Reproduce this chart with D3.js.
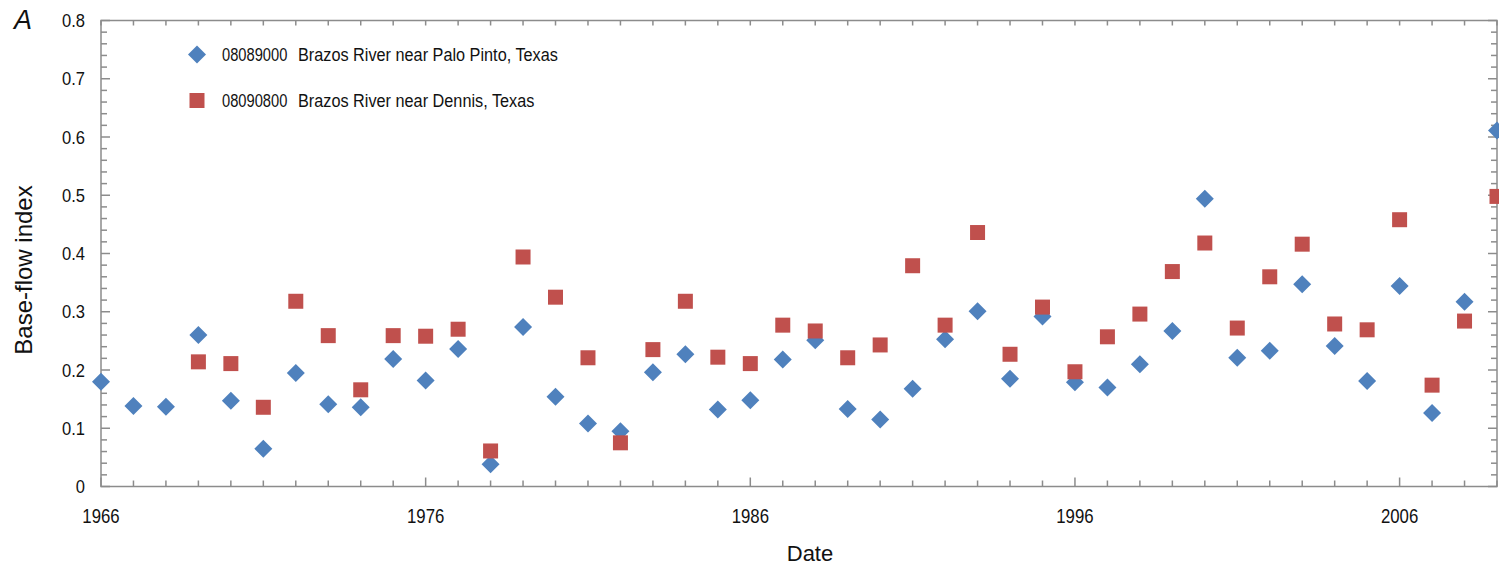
<!DOCTYPE html>
<html lang="en">
<head>
    <meta charset="UTF-8">
    <title>Base-flow index</title>
    <script src="https://d3js.org/d3.v7.min.js"></script>
    <style>
        body { margin: 0; background: #fff; }
        text { font-family: "Liberation Sans", Arial, sans-serif; fill: #111; }
    </style>
</head>
<body>
    <div id="chart"></div>

    <script>
        // Years of record
        var years = d3.range(1966, 2010);

        // 08089000 Brazos River near Palo Pinto, Texas
        var paloPinto = [
            0.180, 0.138, 0.137, 0.260, 0.147, 0.065, 0.195, 0.141, 0.136, 0.219,
            0.182, 0.236, 0.038, 0.274, 0.154, 0.108, 0.095, 0.196, 0.227, 0.132,
            0.148, 0.218, 0.251, 0.133, 0.115, 0.168, 0.253, 0.301, 0.185, 0.292,
            0.179, 0.170, 0.210, 0.267, 0.494, 0.221, 0.233, 0.347, 0.241, 0.181,
            0.344, 0.126, 0.317, 0.611
        ];

        // 08090800 Brazos River near Dennis, Texas (no record 1966-1968)
        var dennis = [
            null, null, null, 0.214, 0.211, 0.136, 0.318, 0.259, 0.166, 0.259,
            0.258, 0.270, 0.061, 0.394, 0.325, 0.221, 0.075, 0.235, 0.318, 0.222,
            0.211, 0.277, 0.267, 0.221, 0.243, 0.379, 0.277, 0.436, 0.227, 0.308,
            0.197, 0.257, 0.296, 0.369, 0.418, 0.272, 0.360, 0.416, 0.279, 0.269,
            0.458, 0.174, 0.284, 0.498
        ];

        var yearLabels = [1966, 1976, 1986, 1996, 2006];
        var yTicks = [0, 0.1, 0.2, 0.3, 0.4, 0.5, 0.6, 0.7, 0.8];

        var legendItems = [
            { code: "08089000", name: "Brazos River near Palo Pinto, Texas", shape: "diamond" },
            { code: "08090800", name: "Brazos River near Dennis, Texas", shape: "square" }
        ];

        var width = 1499, height = 569;
        var blue = "#4f81bd", red = "#c0504d", axisColor = "#8c8c8c";

        var x = d3.scaleLinear().domain([1966, 2009]).range([101, 1497]);
        var y = d3.scaleLinear().domain([0, 0.8]).range([486.5, 20.5]);

        var svg = d3.select("#chart").append("svg")
            .attr("width", width)
            .attr("height", height);

        // minor ticks every 0.02 on both vertical sides
        var yMinor = d3.range(0, 0.8001, 0.02).map(function(v) { return +v.toFixed(2); });

        var frame = svg.append("g").attr("stroke", axisColor).attr("stroke-width", 1.5);

        yMinor.forEach(function(v) {
            var major = Math.abs(v * 10 - Math.round(v * 10)) < 1e-6;
            var len = major ? 9 : 6;
            frame.append("line").attr("x1", x.range()[0]).attr("x2", x.range()[0] + len)
                .attr("y1", y(v)).attr("y2", y(v));
            frame.append("line").attr("x1", x.range()[1]).attr("x2", x.range()[1] - len)
                .attr("y1", y(v)).attr("y2", y(v));
        });

        years.forEach(function(yr) {
            var major = yearLabels.indexOf(yr) >= 0;
            frame.append("line").attr("x1", x(yr)).attr("x2", x(yr))
                .attr("y1", y(0)).attr("y2", y(0) - (major ? 9 : 6));
            frame.append("line").attr("x1", x(yr)).attr("x2", x(yr))
                .attr("y1", y(0.8)).attr("y2", y(0.8) + 5);
        });

        frame.append("rect")
            .attr("x", x.range()[0]).attr("y", y(0.8))
            .attr("width", x.range()[1] - x.range()[0])
            .attr("height", y(0) - y(0.8))
            .attr("fill", "none");

        // tick labels (squeezed horizontally to look like the condensed face)
        svg.append("g")
            .selectAll("text").data(yTicks).enter().append("text")
            .attr("transform", function(d) { return "translate(85," + (y(d) + 6.5) + ") scale(0.92,1)"; })
            .attr("text-anchor", "end")
            .attr("font-size", 18)
            .text(function(d) { return d === 0 ? "0" : d3.format(".1f")(d); });

        svg.append("g")
            .selectAll("text").data(yearLabels).enter().append("text")
            .attr("transform", function(d) { return "translate(" + x(d) + ",523) scale(0.84,1)"; })
            .attr("text-anchor", "middle")
            .attr("font-size", 20)
            .text(function(d) { return d; });

        // axis titles
        svg.append("text")
            .attr("transform", "translate(32,270) rotate(-90)")
            .attr("text-anchor", "middle")
            .attr("font-size", 24)
            .text("Base-flow index");

        svg.append("text")
            .attr("x", 810).attr("y", 561)
            .attr("text-anchor", "middle")
            .attr("font-size", 22)
            .text("Date");

        svg.append("text")
            .attr("x", 14).attr("y", 29)
            .attr("font-size", 27)
            .attr("font-style", "italic")
            .text("A");

        var diamond = d3.symbol().type(d3.symbolSquare).size(162);
        var square = d3.symbol().type(d3.symbolSquare).size(225);

        // Palo Pinto diamonds
        svg.append("g").selectAll("path")
            .data(years.map(function(yr, i) { return { year: yr, value: paloPinto[i] }; }))
            .enter().append("path")
            .attr("d", diamond)
            .attr("transform", function(d) { return "translate(" + x(d.year) + "," + y(d.value) + ") rotate(45)"; })
            .attr("fill", blue);

        // Dennis squares
        svg.append("g").selectAll("path")
            .data(years.map(function(yr, i) { return { year: yr, value: dennis[i] }; })
                .filter(function(d) { return d.value !== null; }))
            .enter().append("path")
            .attr("d", square)
            .attr("transform", function(d) { return "translate(" + x(d.year) + "," + y(d.value) + ")"; })
            .attr("fill", red);

        // legend
        var legend = svg.append("g")
            .selectAll("g").data(legendItems).enter().append("g")
            .attr("transform", function(d, i) { return "translate(197," + (54.5 + i * 46) + ")"; });

        legend.append("path")
            .attr("d", function(d) { return d.shape === "diamond" ? diamond() : square(); })
            .attr("transform", function(d) { return d.shape === "diamond" ? "rotate(45)" : null; })
            .attr("fill", function(d) { return d.shape === "diamond" ? blue : red; });

        legend.append("text")
            .attr("transform", "translate(25,6.5) scale(0.84,1)")
            .attr("font-size", 17.5)
            .text(function(d) { return d.code; });

        legend.append("text")
            .attr("transform", "translate(101,6.5) scale(0.93,1)")
            .attr("font-size", 17.5)
            .text(function(d) { return d.name; });
    </script>
</body>
</html>
